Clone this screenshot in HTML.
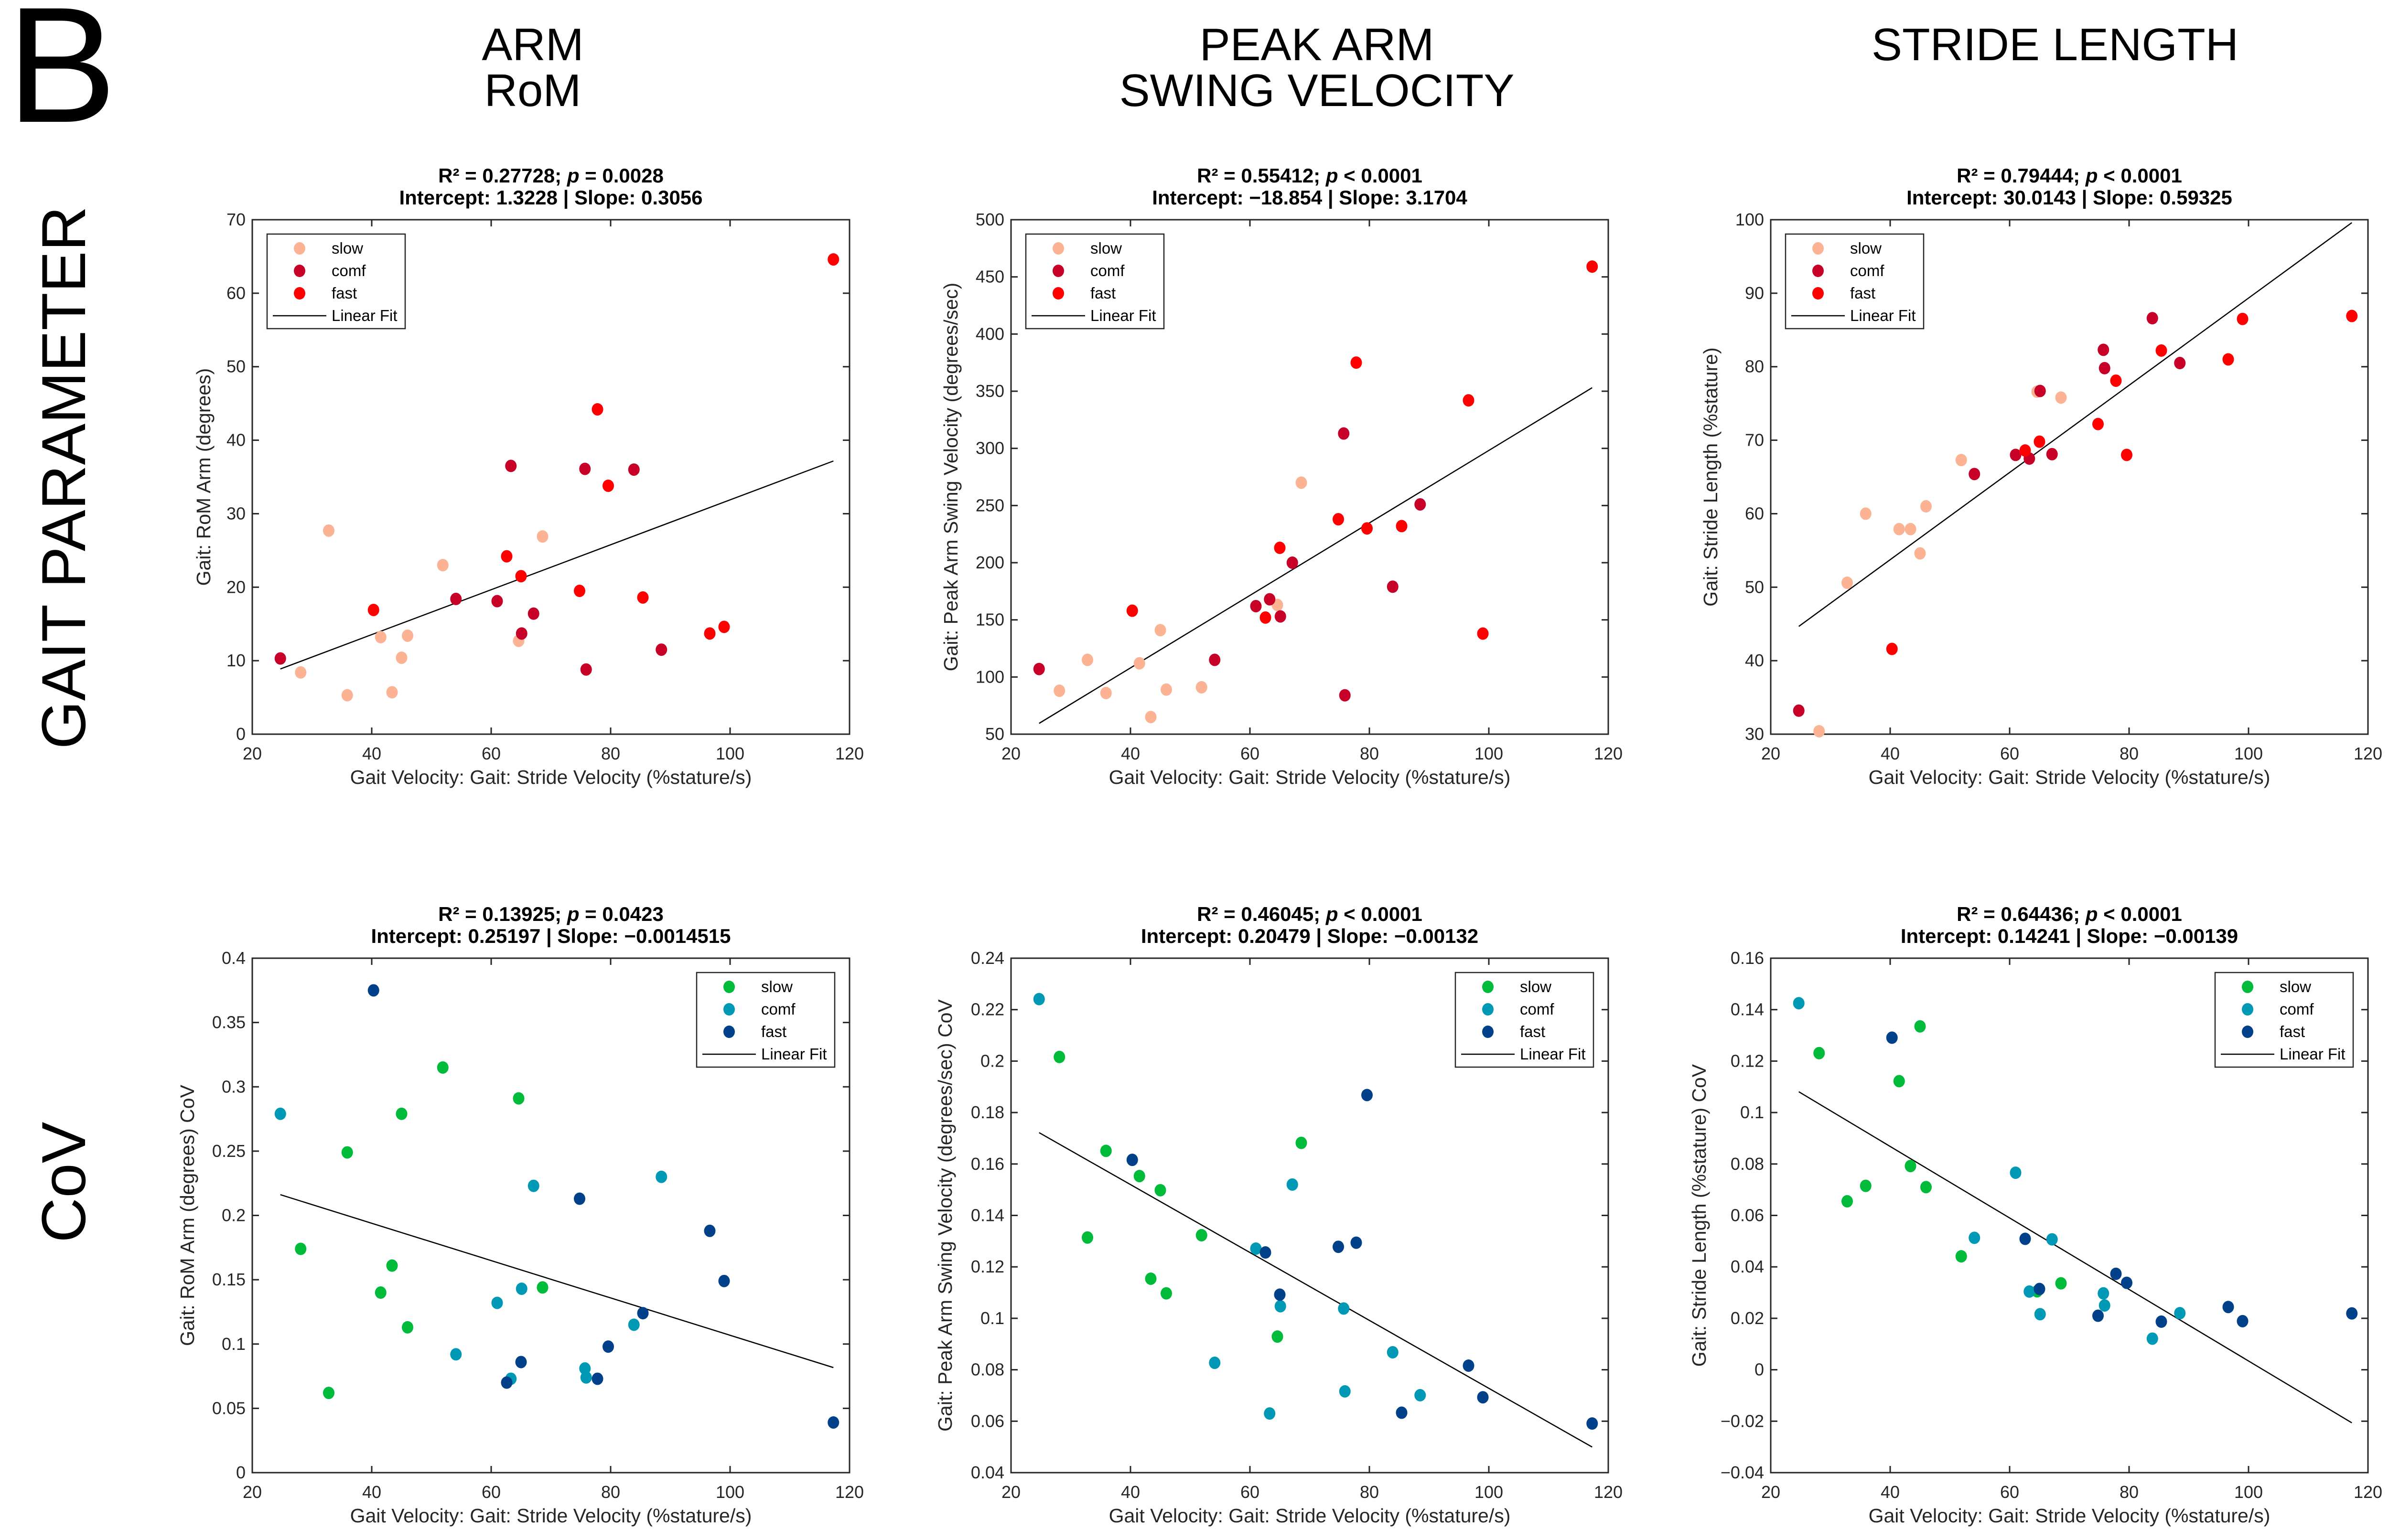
<!DOCTYPE html>
<html><head><meta charset="utf-8"><style>
html,body{margin:0;padding:0;background:#fff;}
svg{display:block;font-family:"Liberation Sans",Arial,sans-serif;}
</style></head><body>
<svg id="fig" width="5007" height="3224" viewBox="0 0 5007 3224" xmlns="http://www.w3.org/2000/svg">
<text x="14" y="255" font-size="345" fill="#000">B</text>
<text x="1115" y="126" font-size="96" text-anchor="middle">ARM</text>
<text x="1115" y="222" font-size="96" text-anchor="middle">RoM</text>
<text x="2756" y="126" font-size="96" text-anchor="middle">PEAK ARM</text>
<text x="2756" y="222" font-size="96" text-anchor="middle">SWING VELOCITY</text>
<text x="4301" y="126" font-size="96" text-anchor="middle">STRIDE LENGTH</text>
<text transform="translate(178,1000) rotate(-90)" font-size="130" text-anchor="middle">GAIT PARAMETER</text>
<text transform="translate(178,2475) rotate(-90)" font-size="130" text-anchor="middle">CoV</text>
</svg>
<script>
// shared x values (stride velocity)
const xSlow=[28.1,32.8,35.9,41.5,43.4,45.0,46.0,51.9,64.6,68.6];
const xComf=[24.7,54.1,61.0,63.3,65.1,67.1,75.7,75.9,83.9,88.5];
const xFast=[40.3,62.6,65.0,74.8,77.8,79.6,85.4,96.6,99.0,117.3];
// panel 1: RoM arm
const p1Slow=[8.4,27.7,5.3,13.2,5.7,10.4,13.4,23.0,12.7,26.9];
const p1Comf=[10.3,18.4,18.1,36.5,13.7,16.4,36.1,8.8,36.0,11.5];
const p1Fast=[16.9,24.2,21.5,19.5,44.2,33.8,18.6,13.7,14.6,64.6];
const p1Fit=[1.3228,0.3056];
const p1Ticks=[0,10,20,30,40,50,60,70];
// panel 2: peak arm swing velocity
const p2Slow=[88,115,86,112,65,141,89,91,163,270];
const p2Comf=[107,115,162,168,153,200,313,84,179,251];
const p2Fast=[158,152,213,238,375,230,232,342,138,459];
const p2Fit=[-18.854,3.1704];
const p2Ticks=[50,100,150,200,250,300,350,400,450,500];
// panel 3: stride length
const p3Slow=[30.4,50.6,60.0,57.9,57.9,54.6,61.0,67.3,76.6,75.8];
const p3Comf=[33.2,65.4,68.0,67.5,76.7,68.1,82.3,79.8,86.6,80.5];
const p3Fast=[41.6,68.6,69.8,72.2,78.1,68.0,82.2,81.0,86.5,86.9];
const p3Fit=[30.0143,0.59325];
const p3Ticks=[30,40,50,60,70,80,90,100];
// panel 4: RoM CoV
const p4Slow=[0.174,0.062,0.249,0.140,0.161,0.279,0.113,0.315,0.291,0.144];
const p4Comf=[0.279,0.092,0.132,0.073,0.143,0.223,0.081,0.074,0.115,0.230];
const p4Fast=[0.375,0.070,0.086,0.213,0.073,0.098,0.124,0.188,0.149,0.039];
const p4Fit=[0.25197,-0.0014515];
const p4Ticks=[0,0.05,0.1,0.15,0.2,0.25,0.3,0.35,0.4];
const p4TickLabels=["0","0.05","0.1","0.15","0.2","0.25","0.3","0.35","0.4"];
// panel 5: peak velocity CoV
const p5Slow=[0.2016,0.1314,0.1651,0.1553,0.1154,0.1498,0.1097,0.1323,0.0929,0.1682];
const p5Comf=[0.2241,0.0827,0.1271,0.0630,0.1047,0.1520,0.1038,0.0716,0.0868,0.0701];
const p5Fast=[0.1616,0.1256,0.1092,0.1278,0.1294,0.1868,0.0633,0.0816,0.0693,0.0591];
const p5Fit=[0.20479,-0.00132];
const p5Ticks=[0.04,0.06,0.08,0.1,0.12,0.14,0.16,0.18,0.2,0.22,0.24];
const p5TickLabels=["0.04","0.06","0.08","0.1","0.12","0.14","0.16","0.18","0.2","0.22","0.24"];
// panel 6: stride length CoV
const p6Slow=[0.1231,0.0655,0.0715,0.1122,0.0792,0.1335,0.0710,0.0441,0.0305,0.0336];
const p6Comf=[0.1425,0.0513,0.0766,0.0304,0.0216,0.0507,0.0297,0.0250,0.0121,0.0220];
const p6Fast=[0.1291,0.0509,0.0314,0.0210,0.0373,0.0338,0.0187,0.0244,0.0189,0.0219];
const p6Fit=[0.14241,-0.00139];
const p6Ticks=[-0.04,-0.02,0,0.02,0.04,0.06,0.08,0.1,0.12,0.14,0.16];
const p6TickLabels=["\u22120.04","\u22120.02","0","0.02","0.04","0.06","0.08","0.1","0.12","0.14","0.16"];
const xTicks=[20,40,60,80,100,120];

const NS="http://www.w3.org/2000/svg";
const svg=document.getElementById('fig');
function mk(tag,attrs,parent){const e=document.createElementNS(NS,tag);for(const k in attrs)e.setAttribute(k,attrs[k]);(parent||svg).appendChild(e);return e;}
const W=1250,H=1077;
const warm=["#FCB394","#C70028","#FE0000"], cool=["#00BA3A","#0099B5","#00418A"];
const panels=[
 {id:'arm-rom',L:528,T:460,s:p1Slow,c:p1Comf,f:p1Fast,fit:p1Fit,ticks:p1Ticks,labels:p1Ticks.map(String),col:warm,leg:'left',yl:'Gait: RoM Arm (degrees)',yo:88,t1:['0.27728','= 0.0028'],t2:'Intercept: 1.3228 | Slope: 0.3056'},
 {id:'peak-velocity',L:2116,T:460,s:p2Slow,c:p2Comf,f:p2Fast,fit:p2Fit,ticks:p2Ticks,labels:p2Ticks.map(String),col:warm,leg:'left',yl:'Gait: Peak Arm Swing Velocity (degrees/sec)',yo:112,t1:['0.55412','< 0.0001'],t2:'Intercept: \u221218.854 | Slope: 3.1704'},
 {id:'stride-length',L:3706,T:460,s:p3Slow,c:p3Comf,f:p3Fast,fit:p3Fit,ticks:p3Ticks,labels:p3Ticks.map(String),col:warm,leg:'left',yl:'Gait: Stride Length (%stature)',yo:112,t1:['0.79444','< 0.0001'],t2:'Intercept: 30.0143 | Slope: 0.59325'},
 {id:'arm-rom-cov',L:528,T:2006,s:p4Slow,c:p4Comf,f:p4Fast,fit:p4Fit,ticks:p4Ticks,labels:p4TickLabels,col:cool,leg:'right',yl:'Gait: RoM Arm (degrees) CoV',yo:122,t1:['0.13925','= 0.0423'],t2:'Intercept: 0.25197 | Slope: \u22120.0014515'},
 {id:'peak-velocity-cov',L:2116,T:2006,s:p5Slow,c:p5Comf,f:p5Fast,fit:p5Fit,ticks:p5Ticks,labels:p5TickLabels,col:cool,leg:'right',yl:'Gait: Peak Arm Swing Velocity (degrees/sec) CoV',yo:124,t1:['0.46045','< 0.0001'],t2:'Intercept: 0.20479 | Slope: \u22120.00132'},
 {id:'stride-length-cov',L:3706,T:2006,s:p6Slow,c:p6Comf,f:p6Fast,fit:p6Fit,ticks:p6Ticks,labels:p6TickLabels,col:cool,leg:'right',yl:'Gait: Stride Length (%stature) CoV',yo:136,t1:['0.64436','< 0.0001'],t2:'Intercept: 0.14241 | Slope: \u22120.00139'}
];
panels.forEach(p=>{
 const g=mk('g',{});
 
 
 const y0=p.ticks[0], y1=p.ticks[p.ticks.length-1];
 const sx=v=>p.L+(v-20)/100*W;
 const sy=v=>p.T+H-(v-y0)/(y1-y0)*H;
 const t1=mk('text',{x:p.L+W/2,y:p.T-78,'font-size':42,'font-weight':'bold','text-anchor':'middle'},g);
 
 
 t1.textContent='R\u00B2 = '+p.t1[0]+'; ';
 const ti=mk('tspan',{'font-style':'italic'},t1); ti.textContent='p';
 const tr=mk('tspan',{},t1); tr.textContent=' '+p.t1[1];
 const t2=mk('text',{x:p.L+W/2,y:p.T-32,'font-size':42,'font-weight':'bold','text-anchor':'middle'},g);
 
 
 t2.textContent=p.t2;
 const fr=mk('rect',{x:p.L,y:p.T,width:W,height:H,fill:'none',stroke:'#262626','stroke-width':3},g);
 
 
 p.ticks.forEach((v,i)=>{
  const y=sy(v);
  mk('line',{x1:p.L,x2:p.L+14,y1:y,y2:y,stroke:'#262626','stroke-width':3},g);
  mk('line',{x1:p.L+W-14,x2:p.L+W,y1:y,y2:y,stroke:'#262626','stroke-width':3},g);
  const tl=mk('text',{x:p.L-14,y:y+12,'font-size':36,'text-anchor':'end',fill:'#262626'},g);
  
  
  tl.textContent=p.labels[i];
 });
 xTicks.forEach(v=>{
  const x=sx(v);
  mk('line',{x1:x,x2:x,y1:p.T+H,y2:p.T+H-14,stroke:'#262626','stroke-width':3},g);
  mk('line',{x1:x,x2:x,y1:p.T,y2:p.T+14,stroke:'#262626','stroke-width':3},g);
  const tl=mk('text',{x:x,y:p.T+H+53,'font-size':36,'text-anchor':'middle',fill:'#262626'},g);
  
  
  tl.textContent=String(v);
 });
 const xl=mk('text',{x:p.L+W/2,y:p.T+H+104,'font-size':41,'text-anchor':'middle',fill:'#262626'},g);
 
 
 xl.textContent='Gait Velocity: Gait: Stride Velocity (%stature/s)';
 const yl=mk('text',{transform:'translate('+(p.L-p.yo)+','+(p.T+H/2)+') rotate(-90)','font-size':41,'text-anchor':'middle',fill:'#262626'},g);
 
 
 yl.textContent=p.yl;
 const xa=Math.min(...xSlow,...xComf,...xFast), xb=Math.max(...xSlow,...xComf,...xFast);
 const fl=mk('line',{x1:sx(xa),y1:sy(p.fit[0]+p.fit[1]*xa),x2:sx(xb),y2:sy(p.fit[0]+p.fit[1]*xb),stroke:'#000','stroke-width':2.5},g);
 
 
 [[xSlow,p.s,0,'slow'],[xComf,p.c,1,'comf'],[xFast,p.f,2,'fast']].forEach(([xs,ys,ci,nm])=>{
  xs.forEach((xv,i)=>{
   const c=mk('ellipse',{cx:sx(xv),cy:sy(ys[i]),rx:12,ry:13,fill:p.col[ci]},g);
   
   
  });
 });
 const lx=p.leg==='left'?p.L+31:p.L+W-31-289, ly=p.T+30;
 const lg=mk('g',{},g);
 
 
 mk('rect',{x:lx,y:ly,width:289,height:198,fill:'#fff',stroke:'#262626','stroke-width':2.5},lg);
 ['slow','comf','fast'].forEach((nm,i)=>{
  const yy=ly+30+i*47;
  const m=mk('ellipse',{cx:lx+68,cy:yy,rx:12,ry:13,fill:p.col[i]},lg);
  
  
  const t=mk('text',{x:lx+135,y:yy+11,'font-size':33},lg);
  
  
  t.textContent=nm;
 });
 mk('line',{x1:lx+12,x2:lx+124,y1:ly+171,y2:ly+171,stroke:'#000','stroke-width':2.5},lg);
 const lt=mk('text',{x:lx+135,y:ly+182,'font-size':33},lg);
 
 
 lt.textContent='Linear Fit';
});
</script>
</body></html>
